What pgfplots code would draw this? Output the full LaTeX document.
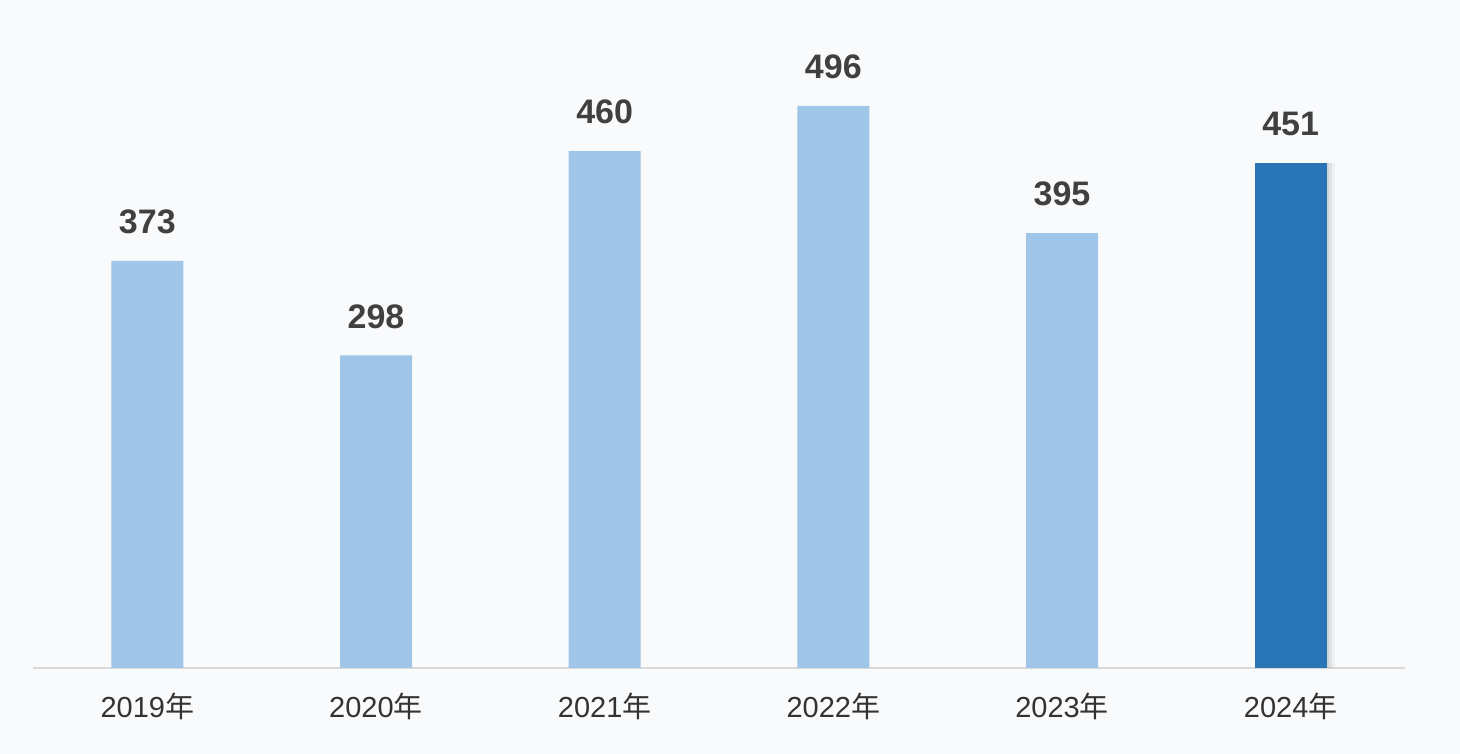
\documentclass[border=0pt]{standalone}
\usepackage{pgfplots}
\pgfplotsset{compat=1.18}
\usepackage{fontspec}
\setmainfont{Liberation Sans}
\newfontfamily\cjk{Noto Sans CJK SC}
\usetikzlibrary{shadows}
\definecolor{bg}{HTML}{F9FAFC}
\definecolor{barlight}{HTML}{9FC5E8}
\definecolor{bardark}{HTML}{2A75B5}
\definecolor{labelgray}{HTML}{404040}
\definecolor{tickgray}{HTML}{333333}
\definecolor{axisgray}{HTML}{D9D9D9}
\begin{document}
\begin{tikzpicture}
\fill[bg] (0,0) rectangle (730pt,377pt);
\begin{axis}[
    at={(16.5pt,43pt)}, anchor=south west,
    scale only axis,
    width=686pt, height=334pt,
    xmin=-0.5, xmax=5.5,
    ymin=50, ymax=580,
    ybar, bar width=36pt, bar shift=0pt,
    axis y line=none,
    axis x line*=bottom,
    axis line style={axisgray, line width=0.8pt},
    xtick={0,1,2,3,4,5},
    xticklabels={2019{\cjk 年},2020{\cjk 年},2021{\cjk 年},2022{\cjk 年},2023{\cjk 年},2024{\cjk 年}},
    major tick length=0pt,
    xticklabel style={font=\fontsize{14.5}{16}\selectfont, text=tickgray, yshift=-9pt},
    nodes near coords,
    nodes near coords style={font=\bfseries\fontsize{17}{19}\selectfont, text=labelgray, yshift=10pt},
    point meta=explicit symbolic,
]
\addplot[draw=none, fill=barlight] coordinates {
    (0,373) [373] (1,298) [298] (2,460) [460] (3,496) [496] (4,395) [395]
};
\addplot[draw=none, fill=bardark,
    drop shadow={shadow xshift=4pt, shadow yshift=0pt, opacity=0.08},
    drop shadow={shadow xshift=2.5pt, shadow yshift=0pt, opacity=0.12},
    drop shadow={shadow xshift=1.2pt, shadow yshift=0pt, opacity=0.15}] coordinates {
    (5,451) [451]
};
\end{axis}
\end{tikzpicture}
\end{document}
